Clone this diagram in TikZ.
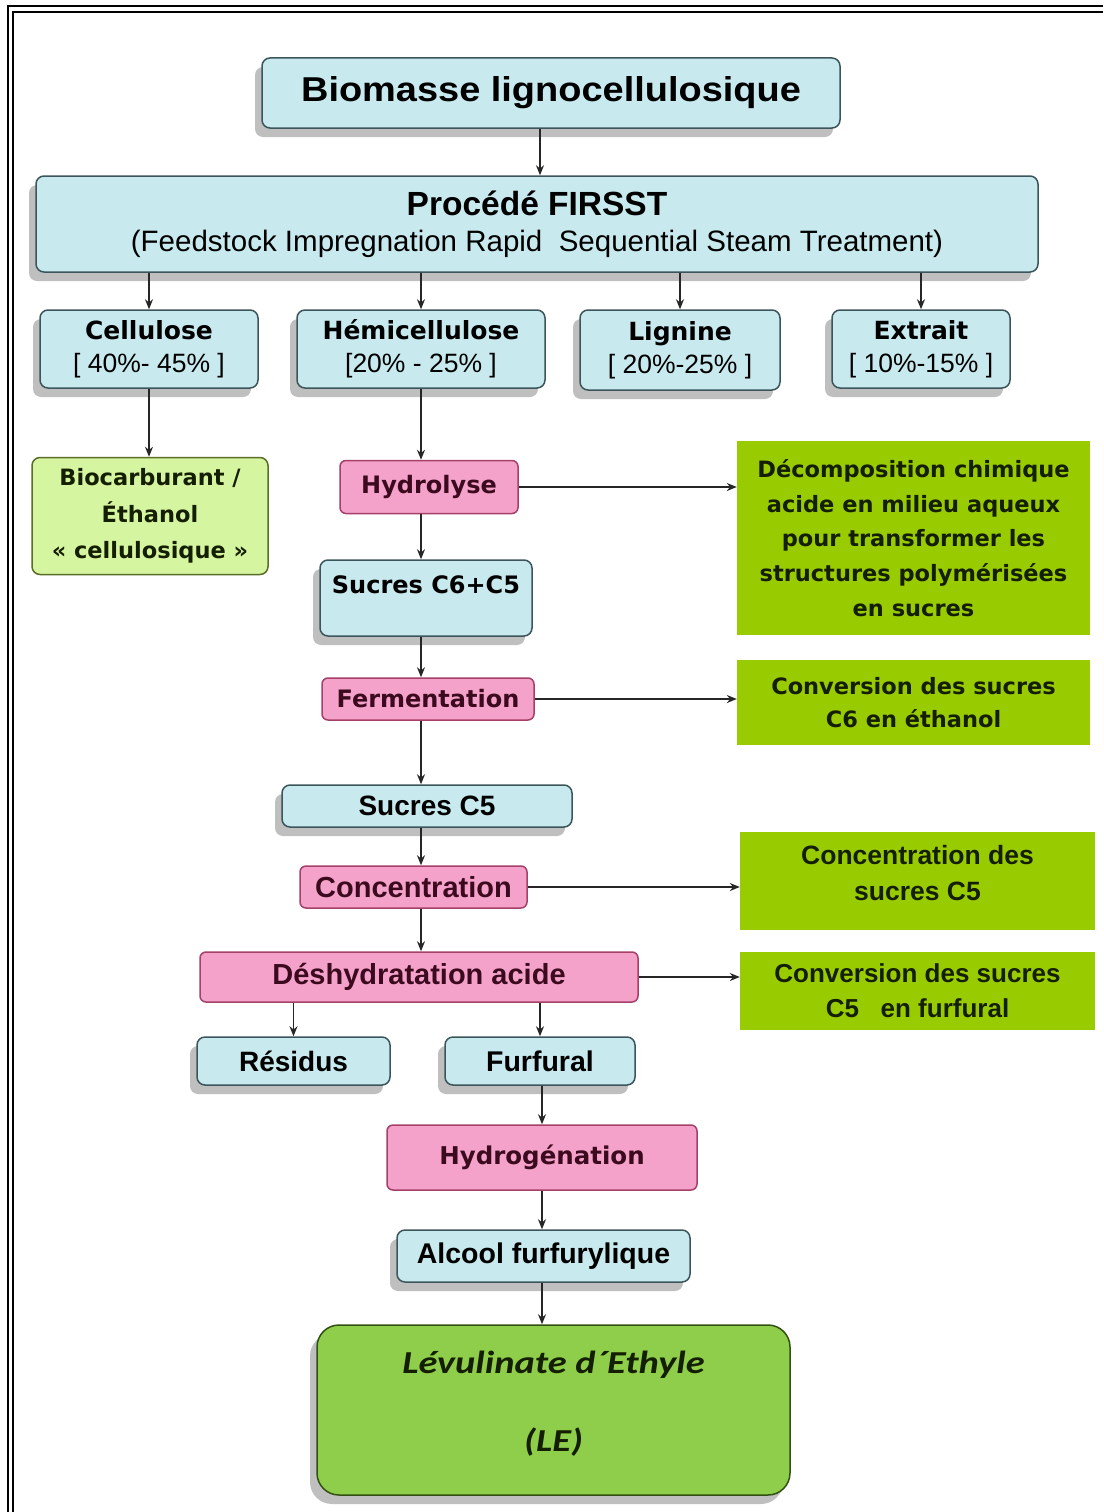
\documentclass[tikz,border=0pt]{standalone}
\usepackage{fontspec}
\setmainfont{Liberation Sans}
\newfontfamily\hvf{Liberation Sans}[FakeStretch=1.1]
\newfontfamily\widef{DejaVu Sans}
\newfontfamily\calf{Carlito}[FakeStretch=1.2]
\usetikzlibrary{shadows,arrows.meta}
\definecolor{bluef}{RGB}{200,234,238}
\definecolor{bord}{RGB}{60,85,90}
\definecolor{pinkf}{RGB}{245,162,202}
\definecolor{pinkd}{RGB}{165,65,105}
\definecolor{gfill}{RGB}{153,204,0}
\definecolor{biof}{RGB}{214,245,160}
\definecolor{biod}{RGB}{90,110,40}
\definecolor{lef}{RGB}{143,206,74}
\definecolor{led}{RGB}{50,80,20}
\definecolor{pinkt}{RGB}{60,10,30}
\definecolor{gtext}{RGB}{20,30,0}
\tikzset{
  bshadow/.style={drop shadow={shadow xshift=-7pt,shadow yshift=-9pt,fill=black,opacity=0.25}},
  bluebox/.style={draw=bord, fill=bluef, rounded corners=8pt, line width=1.5pt, inner sep=0pt, align=center, bshadow},
  pinkbox/.style={draw=pinkd, fill=pinkf, rounded corners=6pt, line width=1.5pt, inner sep=0pt, align=center, text=pinkt},
  gbox/.style={fill=gfill, inner sep=0pt, align=center, text=gtext},
  arr/.style={-{Stealth[length=10pt,width=8pt]}, line width=1.4pt, draw=black!85},
  fN/.style={font=\bfseries\fontsize{#1}{#1}\selectfont},
  fW/.style={font=\widef\bfseries\fontsize{#1}{#1}\selectfont},
}
\begin{document}
\begin{tikzpicture}[x=1pt,y=-1pt]
\useasboundingbox (0,0) rectangle (1103,1512);
\fill[white] (0,0) rectangle (1103,1512);
\draw[line width=2.5pt] (8,1512) -- (8,6) -- (1103,6);
\draw[line width=2pt] (13,1512) -- (13,12) -- (1103,12);

\node[bluebox, minimum width=578, minimum height=70, font=\hvf\bfseries\fontsize{34.5}{34.5}\selectfont] (bio) at (551,93) {Biomasse lignocellulosique};
\node[bluebox, minimum width=1002, minimum height=96, font=\fontsize{30}{36}\selectfont] (firsst) at (537,224)
  {{\bfseries\fontsize{33.5}{36}\selectfont Procédé FIRSST}\\{\fontsize{29.5}{36}\selectfont (Feedstock Impregnation Rapid\ \ Sequential Steam Treatment)}};

\node[bluebox, minimum width=218, minimum height=78, font=\fontsize{25}{33}\selectfont] (cell) at (149,349)
  {{\widef\bfseries Cellulose}\\{\fontsize{26.5}{33}\selectfont [ 40\%- 45\% ]}};
\node[bluebox, minimum width=248, minimum height=78, font=\fontsize{25}{33}\selectfont] (hemi) at (421,349)
  {{\widef\bfseries Hémicellulose}\\{\fontsize{26.5}{33}\selectfont [20\% - 25\% ]}};
\node[bluebox, minimum width=200, minimum height=80, font=\fontsize{25}{33}\selectfont] (lig) at (680,350)
  {{\widef\bfseries Lignine}\\{\fontsize{26.5}{33}\selectfont [ 20\%-25\% ]}};
\node[bluebox, minimum width=178, minimum height=78, font=\fontsize{25}{33}\selectfont] (ext) at (921,349)
  {{\widef\bfseries Extrait}\\{\fontsize{26.5}{33}\selectfont [ 10\%-15\% ]}};

\node[draw=biod, fill=biof, rounded corners=8pt, line width=1.5pt, inner sep=0pt, align=center, minimum width=236, minimum height=117, text=gtext, font=\widef\bfseries\fontsize{22.5}{36.5}\selectfont] (biocarb) at (150,516)
  {Biocarburant /\\Éthanol\\« cellulosique »};

\node[pinkbox, minimum width=178, minimum height=53, fW=24] (hydro) at (429,487) {Hydrolyse};
\node[gbox, minimum width=353, minimum height=194, font=\widef\bfseries\fontsize{22.5}{34.7}\selectfont] (g1) at (913.5,538)
  {Décomposition chimique\\acide en milieu aqueux\\pour transformer les\\structures polymérisées\\en sucres};

\node[bluebox, minimum width=212, minimum height=76, fW=24, text depth=27pt] (s65) at (426,598) {Sucres C6+C5};
\node[pinkbox, minimum width=212, minimum height=42, fW=24] (ferm) at (428,699) {Fermentation};
\node[gbox, minimum width=353, minimum height=85, font=\widef\bfseries\fontsize{22.5}{33}\selectfont] (g2) at (913.5,702.5)
  {Conversion des sucres\\C6 en éthanol};

\node[bluebox, minimum width=290, minimum height=42, fN=28] (s5) at (427,806) {Sucres C5};
\node[pinkbox, minimum width=227, minimum height=42, fN=29] (conc) at (413.5,887) {Concentration};
\node[gbox, minimum width=355, minimum height=98, font=\bfseries\fontsize{26.5}{36}\selectfont, text depth=16pt] (g3) at (917.5,881)
  {Concentration des\\sucres C5};

\node[pinkbox, minimum width=438, minimum height=50, fN=29] (desh) at (419,977) {Déshydratation acide};
\node[gbox, minimum width=355, minimum height=78, font=\bfseries\fontsize{26}{35}\selectfont] (g4) at (917.5,991)
  {Conversion des sucres\\C5\ \ \ en furfural};

\node[bluebox, minimum width=193, minimum height=48, fN=28] (res) at (293.5,1061) {Résidus};
\node[bluebox, minimum width=190, minimum height=48, fN=28.5] (furf) at (540,1061) {Furfural};
\node[pinkbox, minimum width=310, minimum height=65, fW=24.5] (hydrog) at (542,1157.5) {Hydrogénation};
\node[bluebox, minimum width=293, minimum height=52, fN=28.5] (alc) at (543.5,1256) {Alcool furfurylique};
\node[draw=led, fill=lef, rounded corners=22pt, line width=1.5pt, inner sep=0pt, align=center, minimum width=473, minimum height=170, text=gtext, font=\calf\bfseries\itshape\fontsize{32}{36}\selectfont, text depth=18pt, bshadow] (le) at (553.5,1410)
  {Lévulinate d´Ethyle\\[42pt](LE)};

% connectors
\draw[arr] ([xshift=-11pt]bio.south) -- ([xshift=-11pt]bio.south |- firsst.north);
\draw[arr] (cell.north |- firsst.south) -- (cell.north);
\draw[arr] (hemi.north |- firsst.south) -- (hemi.north);
\draw[arr] (lig.north |- firsst.south) -- (lig.north);
\draw[arr] (ext.north |- firsst.south) -- (ext.north);
\draw[arr] (cell.south) -- (cell.south |- biocarb.north);
\draw[arr] (hemi.south) -- (hemi.south |- hydro.north);
\draw[arr] (hydro.east) -- (hydro.east -| g1.west);
\draw[arr] (hydro.south -| hemi.south) -- (s65.north -| hemi.south);
\draw[arr] (s65.south -| hemi.south) -- (ferm.north -| hemi.south);
\draw[arr] (ferm.east) -- (ferm.east -| g2.west);
\draw[arr] (ferm.south -| hemi.south) -- (s5.north -| hemi.south);
\draw[arr] (s5.south -| hemi.south) -- (conc.north -| hemi.south);
\draw[arr] (conc.east) -- (conc.east -| g3.west);
\draw[arr] (conc.south -| hemi.south) -- (desh.north -| hemi.south);
\draw[arr] (desh.east) -- (desh.east -| g4.west);
\draw[arr] (desh.south -| res.north) -- (res.north);
\draw[arr] (desh.south -| furf.north) -- (furf.north);
\draw[arr] (furf.south -| hydrog.north) -- (hydrog.north);
\draw[arr] (hydrog.south) -- (hydrog.south |- alc.north);
\draw[arr] (alc.south -| hydrog.south) -- (le.north -| hydrog.south);
\end{tikzpicture}
\end{document}
